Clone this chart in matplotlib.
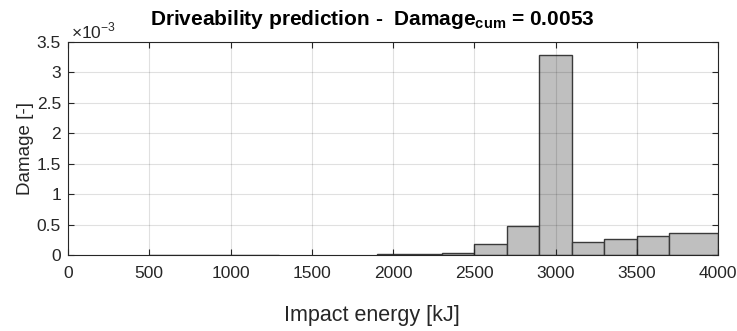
import matplotlib
matplotlib.use("Agg")
import matplotlib.pyplot as plt
from matplotlib.ticker import FuncFormatter

plt.rcParams['font.family'] = ['Liberation Sans', 'DejaVu Sans']
plt.rcParams['mathtext.fontset'] = 'custom'
plt.rcParams['mathtext.rm'] = 'Liberation Sans'
plt.rcParams['mathtext.bf'] = 'Liberation Sans:bold'

# histogram bins (impact energy, kJ) and damage per bin
bin_lo = [500, 1900, 2300, 2500, 2700, 2900, 3100, 3300, 3500, 3700]
bin_hi = [1300, 2300, 2500, 2700, 2900, 3100, 3300, 3500, 3700, 4000]
damage = [0.000004, 0.00001, 0.00003, 0.00018, 0.00048, 0.00328,
          0.00021, 0.00026, 0.00031, 0.00036]
damage_cum = 0.0053

x_ticks = [0, 500, 1000, 1500, 2000, 2500, 3000, 3500, 4000]
y_ticks = [0, 0.0005, 0.001, 0.0015, 0.002, 0.0025, 0.003, 0.0035]

fig = plt.figure(figsize=(7.37, 3.31), dpi=100)
ax = fig.add_axes([68 / 737, 1 - 255 / 331, 650 / 737, 213 / 331])

widths = [h - l for l, h in zip(bin_lo, bin_hi)]
ax.bar(bin_lo, damage, width=widths, align='edge', color='#bfbfbf',
       edgecolor='#3a3a3a', linewidth=1.0, zorder=1)

ax.set_xlim(0, 4000)
ax.set_ylim(0, 0.0035)
ax.set_xticks(x_ticks)
ax.set_yticks(y_ticks)
ax.yaxis.set_major_formatter(FuncFormatter(lambda v, p: f'{v * 1e3:g}'))

ax.set_axisbelow(False)
ax.grid(True, color='black', alpha=0.12, linewidth=0.8, zorder=3)
ax.tick_params(direction='in', top=True, right=True, length=4,
               width=0.8, color='#262626', labelsize=12.5, labelcolor='#262626')
ax.tick_params(axis='x', pad=8)
ax.tick_params(axis='y', pad=5)
for s in ax.spines.values():
    s.set_color('#262626')
    s.set_linewidth(0.8)
    s.set_zorder(4)

ax.text(0.004, 1.005, r'$\times$10$^{-3}$', transform=ax.transAxes,
        ha='left', va='bottom', fontsize=12.5, color='#262626')

# labels sit a bit left of the axes centre in the reference
cx = (372 - 68) / 650
ax.set_xlabel('Impact energy [kJ]', fontsize=15.5, color='#262626')
ax.xaxis.set_label_coords(cx, -0.235)
ax.xaxis.label.set_va('top')
ax.set_ylabel('Damage [-]', fontsize=13.5, color='#262626', labelpad=2)
ax.set_title(r'Driveability prediction -  $\mathbf{Damage_{cum}}$ = ' + f'{damage_cum:.4f}',
             fontsize=15, fontweight='bold', color='black', x=cx, y=1.0, pad=12)

fig.savefig('out.png', dpi=100)
